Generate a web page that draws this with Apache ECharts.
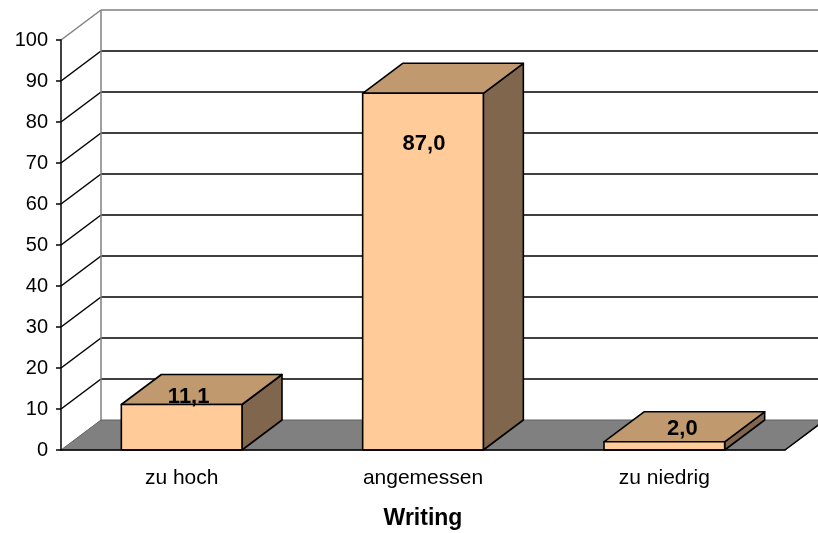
<!DOCTYPE html>
<html>
<head>
<meta charset="utf-8">
<script src="https://cdn.jsdelivr.net/npm/echarts@6/dist/echarts.min.js"></script>
<style>
  html, body { margin: 0; padding: 0; background: #fff; }
  #chartContainer { width: 818px; height: 533px; }
</style>
</head>
<body>
<div id="chartContainer"></div>
<script>
// Data
const categories = ['zu hoch', 'angemessen', 'zu niedrig'];
const values = [11.1, 87.0, 2.0];
const yTicks = [0, 10, 20, 30, 40, 50, 60, 70, 80, 90, 100];

// 3D look: depth offset in pixels and face colours
const depthX = 40;
const depthY = -30;
const frontColor = '#FFCC99';
const topColor = '#C0996F';
const sideColor = '#80664D';
const floorColor = '#808080';
const font = 'Liberation Sans, Arial, sans-serif';
// label shift from the top-front centre of each bar
const labelShift = [[7, -8], [1, 51], [18, -13]];

const chartContainer = document.getElementById('chartContainer');
const chart = echarts.init(chartContainer);

// walls, floor and gridlines behind the bars
function renderWalls(params, api) {
  const band = api.size([1, 0])[0];
  const x0 = api.coord([0, 0])[0] - band / 2;
  const xEnd = api.coord([categories.length - 1, 0])[0] + band / 2;
  const y0 = api.coord([0, 0])[1];
  const yTop = api.coord([0, yTicks[yTicks.length - 1]])[1];
  const children = [];

  children.push({
    type: 'polygon',
    shape: { points: [[x0, y0], [x0 + depthX, y0 + depthY], [xEnd + depthX, y0 + depthY], [xEnd, y0]] },
    style: { fill: floorColor, stroke: '#606060', lineWidth: 1 }
  });

  yTicks.forEach(function (v) {
    if (v === 0) return;
    const y = api.coord([0, v])[1];
    const col = v === yTicks[yTicks.length - 1] ? '#808080' : '#000';
    children.push({
      type: 'line',
      shape: { x1: x0 + depthX, y1: y + depthY, x2: xEnd + depthX + 20, y2: y + depthY },
      style: { stroke: col, lineWidth: 1.5 }
    });
    children.push({
      type: 'line',
      shape: { x1: x0, y1: y, x2: x0 + depthX, y2: y + depthY },
      style: { stroke: col, lineWidth: 1.5 }
    });
  });

  children.push({
    type: 'line',
    shape: { x1: x0 + depthX, y1: yTop + depthY, x2: x0 + depthX, y2: y0 + depthY },
    style: { stroke: '#808080', lineWidth: 1.5 }
  });
  children.push({
    type: 'line',
    shape: { x1: xEnd, y1: y0, x2: xEnd + depthX, y2: y0 + depthY },
    style: { stroke: '#000', lineWidth: 1.5 }
  });

  return { type: 'group', children: children };
}

// one 3D box per category
function renderBar(params, api) {
  const idx = api.value(0);
  const val = api.value(1);
  const band = api.size([1, 0])[0];
  const w = band * 0.5;
  const c = api.coord([idx, val]);
  const base = api.coord([idx, 0]);
  const xl = c[0] - w / 2;
  const xr = c[0] + w / 2;
  const yt = c[1];
  const yb = base[1];
  const edge = { stroke: '#000', lineWidth: 1.6, lineJoin: 'round' };
  const shift = labelShift[params.dataIndex];

  return {
    type: 'group',
    children: [
      {
        type: 'polygon',
        shape: { points: [[xr, yt], [xr + depthX, yt + depthY], [xr + depthX, yb + depthY], [xr, yb]] },
        style: Object.assign({ fill: sideColor }, edge)
      },
      {
        type: 'polygon',
        shape: { points: [[xl, yt], [xl + depthX, yt + depthY], [xr + depthX, yt + depthY], [xr, yt]] },
        style: Object.assign({ fill: topColor }, edge)
      },
      {
        type: 'rect',
        shape: { x: xl, y: yt, width: w, height: yb - yt },
        style: Object.assign({ fill: frontColor }, edge)
      },
      {
        type: 'text',
        x: c[0] + shift[0],
        y: yt + shift[1],
        style: {
          text: val.toFixed(1).replace('.', ','),
          fontFamily: font,
          fontWeight: 'bold',
          fontSize: 22,
          fill: '#000',
          align: 'center',
          verticalAlign: 'middle'
        }
      }
    ]
  };
}

const options = {
  animation: false,
  grid: { left: 61, right: 33, top: 40, bottom: 83, outerBoundsMode: 'none' },
  xAxis: {
    type: 'category',
    data: categories,
    z: 10,
    axisLine: { lineStyle: { color: '#000', width: 1.5 } },
    axisTick: { length: 5, lineStyle: { color: '#000', width: 1.5 } },
    axisLabel: { color: '#000', fontFamily: font, fontSize: 21, margin: 18 },
    name: 'Writing',
    nameLocation: 'middle',
    nameGap: 57,
    nameTextStyle: { color: '#000', fontFamily: font, fontWeight: 'bold', fontSize: 23 }
  },
  yAxis: {
    type: 'value',
    min: 0,
    max: 100,
    interval: 10,
    z: 10,
    axisLine: { show: true, lineStyle: { color: '#000', width: 1.5 } },
    axisTick: { show: true, length: 5, lineStyle: { color: '#000', width: 1.5 } },
    axisLabel: { color: '#000', fontFamily: font, fontSize: 20, margin: 13 },
    splitLine: { show: false }
  },
  series: [
    {
      type: 'custom',
      z: 1,
      clip: false,
      renderItem: renderWalls,
      data: [[0, 0]],
      silent: true
    },
    {
      type: 'custom',
      z: 2,
      clip: false,
      renderItem: renderBar,
      data: values.map(function (v, i) { return [i, v]; })
    }
  ]
};

chart.setOption(options);
</script>
</body>
</html>
